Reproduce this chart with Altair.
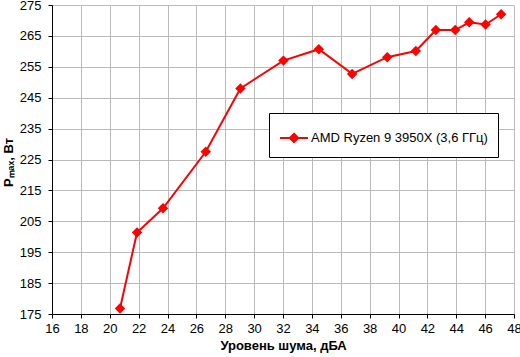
import altair as alt
import pandas as pd

noise = [20.71, 21.89, 23.69, 26.65, 29.05, 32.03, 34.48, 36.79, 39.22, 41.2, 42.59, 43.93, 44.9, 46.03, 47.11]
pmax = [176.8, 201.4, 209.2, 227.5, 248.0, 257.0, 260.7, 252.7, 258.1, 260.1, 266.9, 266.9, 269.4, 268.7, 272.0]
series = "AMD Ryzen 9 3950X (3,6 ГГц)"
x_ticks = list(range(16, 49, 2))
y_ticks = list(range(175, 276, 10))

df = pd.DataFrame({"x": noise, "y": pmax, "s": [series] * len(noise)})

FONT = "Liberation Sans"

color = alt.Color(
    "s:N",
    scale=alt.Scale(domain=[series], range=["#FF0000"]),
    legend=alt.Legend(
        title=None,
        orient="none",
        legendX=217,
        legendY=108,
        strokeColor="black",
        fillColor="white",
        padding=10,
        cornerRadius=0,
        symbolType="M-1,0L1,0M0,-0.3L0.3,0L0,0.3L-0.3,0Z",
        symbolSize=784,
        symbolStrokeWidth=2,
        symbolFillColor="#FF0000",
        symbolStrokeColor="#FF0000",
        labelFont=FONT,
        labelFontSize=13,
        labelColor="black",
        labelOffset=2,
        labelLimit=400,
    ),
)

x = alt.X(
    "x:Q",
    scale=alt.Scale(domain=[16, 48], nice=False, zero=False),
    axis=alt.Axis(
        values=x_ticks,
        title="Уровень шума, дБА",
        titleFont=FONT,
        titleFontSize=13,
        titleFontWeight="bold",
        titleColor="black",
        titlePadding=4,
        labelFont=FONT,
        labelFontSize=13,
        labelColor="black",
        labelPadding=4,
        labelOverlap=False,
        tickColor="black",
        tickSize=4,
        domainColor="black",
        grid=True,
        gridColor="#BBBBBB",
        gridOpacity=1,
        labelFlush=False,
    ),
)

y = alt.Y(
    "y:Q",
    scale=alt.Scale(domain=[175, 275], nice=False, zero=False),
    axis=alt.Axis(
        values=y_ticks,
        title="Pₘₐₓ, Вт",
        titleFont=FONT,
        titleFontSize=13,
        titleFontWeight="bold",
        titleColor="black",
        titleX=-44,
        titleY=157,
        titleAngle=-90,
        titleAlign="center",
        titleBaseline="middle",
        labelFont=FONT,
        labelFontSize=13,
        labelColor="black",
        labelPadding=7,
        labelOverlap=False,
        tickColor="black",
        tickSize=4,
        domainColor="black",
        grid=True,
        gridColor="#BBBBBB",
        gridOpacity=1,
        labelFlush=False,
    ),
)

base = alt.Chart(df).encode(x=x, y=y, color=color)
line = base.mark_line(strokeWidth=2)
pts = base.mark_point(shape="diamond", filled=True, size=110, opacity=1)

chart = (
    alt.layer(line, pts)
    .properties(
        width=462,
        height=309,
        autosize=alt.AutoSizeParams(type="none"),
        padding={"left": 52, "top": 5, "right": 6, "bottom": 43},
    )
    .configure_view(stroke="#A0A0A0", strokeWidth=1)
    .configure(background="white")
)

chart.save("out.html", embed_options={"renderer": "svg", "actions": False})
